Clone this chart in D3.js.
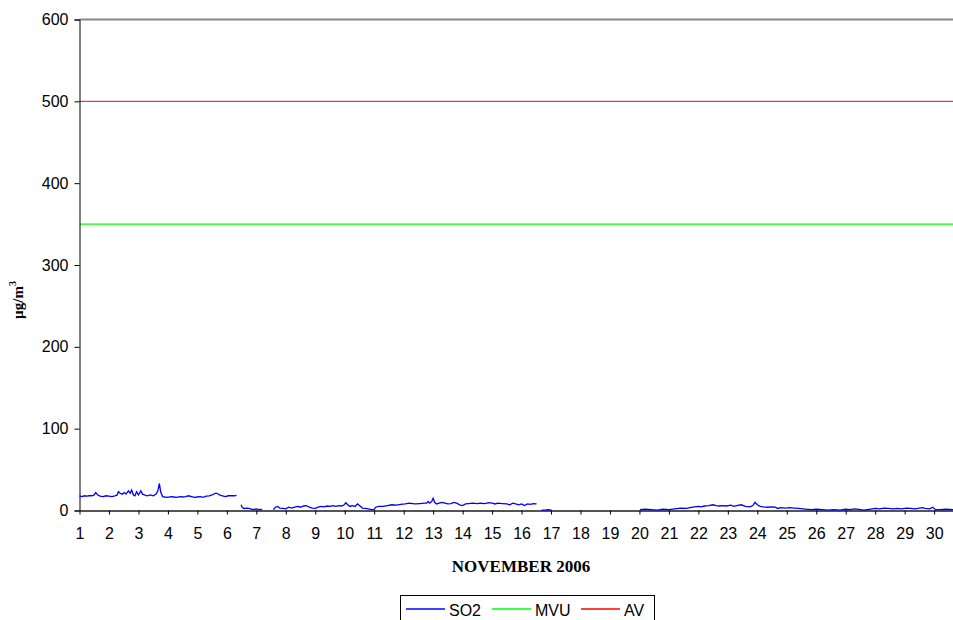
<!DOCTYPE html>
<html><head><meta charset="utf-8">
<script src="https://cdn.jsdelivr.net/npm/d3@7"></script>
<style>body{margin:0;background:#fff}svg{display:block}</style>
</head><body>
<script>
// ---- data ----
const dayTicks = d3.range(1, 31);
const yTicks = [0, 100, 200, 300, 400, 500, 600];
const so2Days = [1.0,1.08,1.17,1.25,1.33,1.42,1.5,1.55,1.62,1.7,1.8,1.9,2.0,2.1,2.2,2.28,2.32,2.38,2.45,2.52,2.58,2.66,2.72,2.77,2.83,2.88,2.94,3.0,3.08,3.14,3.2,3.3,3.4,3.5,3.6,3.66,3.71,3.76,3.82,3.9,4.0,4.1,4.2,4.3,4.4,4.5,4.6,4.7,4.8,4.9,5.0,5.1,5.2,5.3,5.4,5.5,5.6,5.67,5.75,5.85,5.95,6.05,6.15,6.25,6.33,6.4,
 6.48,6.52,6.58,6.7,6.8,6.9,7.0,7.1,7.2,7.4,
 7.58,7.65,7.72,7.8,7.9,8.0,8.1,8.2,8.3,8.4,8.5,8.6,8.7,8.8,8.9,9.0,9.1,9.2,9.3,9.4,9.5,9.6,9.7,9.8,9.9,9.98,10.04,10.1,10.18,10.25,10.35,10.43,10.5,10.6,10.7,10.8,10.9,11.0,11.05,11.15,11.3,11.45,11.6,11.75,11.9,12.05,12.2,12.3,12.4,12.55,12.7,12.78,12.83,12.88,12.95,13.0,13.05,13.12,13.2,13.3,13.4,13.5,13.6,13.7,13.8,13.9,14.0,14.1,14.2,14.35,14.5,14.6,14.75,14.9,15.0,15.1,15.2,15.35,15.5,15.6,15.7,15.8,15.9,16.0,16.1,16.2,16.3,16.4,16.51,16.6,
 16.68,16.8,16.9,17.02,18.5,
 20.02,20.2,20.4,20.6,20.8,21.0,21.2,21.4,21.6,21.8,22.0,22.1,22.2,22.35,22.5,22.6,22.7,22.8,22.95,23.1,23.2,23.3,23.45,23.6,23.75,23.85,23.92,24.0,24.1,24.2,24.35,24.5,24.6,24.7,24.8,24.95,25.1,25.25,25.4,25.55,25.7,25.85,26.0,26.2,26.4,26.6,26.8,27.0,27.15,27.3,27.45,27.6,27.8,28.0,28.15,28.3,28.45,28.6,28.75,28.9,29.05,29.2,29.35,29.5,29.6,29.7,29.85,29.95,30.05,30.2,30.4,30.64];
const so2Values = [18,17,18,17.5,18,18,19,22,19,17.5,17,18,17.5,17,18,19,23,21,20,22,20,24,21,25,19,18,23,19,24,20,19,18,19,18,20,24,33,22,17,16.5,16,17,16.5,16,17,16.5,17,18,17,16,16.5,17,16,17.5,18,19,21,21,19,18,17,18,18,18,18.5,null,
 7,4,2.5,3,2,1,2,1,1.5,null,
 1,4,5,3,2.5,2,4,3,4,5,4,5.5,6,4,3,2.5,4,5,4.5,5.5,5,6,5,6,5.5,7,9.5,7,5,6,5,8,6,3,2.5,2,1,1.5,4,5,5,6,7,6.5,7.5,8,9,8.5,8,8.5,9,9,11,9,11,15,10,8,9,10,9,8,8.5,10,9,7,6,8,8.5,9,8.5,9,8.5,9.5,9,8,9,8.5,8,7,9,8,7,8,6,8,7.5,8.5,8,null,
 0.5,0.5,1,0.5,null,
 1,1.5,1,0.5,1.5,1,2,3,2.5,4,5,4.5,5.5,6,7,6,5.5,6,5.5,6.5,5,6,7,5,4.5,6,10,7,5,4.5,4,4.5,4,2.5,3.5,3,3.5,3,2.5,2,1.5,1,1.5,1,0.5,1,0.5,1.5,1,2,1.5,0.5,1.5,2.5,2,3,2.5,2,2.5,2,3,2.5,2,3,3.5,2.5,2,4,1,1,1.5,1];
const limitNames = ["MVU", "AV"];
const limitValues = [350, 500];
const seriesNames = ["SO2", "MVU", "AV"];
const seriesColors = ["#0000ff", "#00ff00", "#ff0000"];

// ---- chart ----
const W = 953, H = 620;
const svg = d3.select("body").append("svg").attr("width", W).attr("height", H);
const x = d3.scaleLinear().domain([1, 30.64]).range([79.5, 953]);
const y = d3.scaleLinear().domain([0, 600]).range([510.5, 19.5]);
const font = "Arial, 'Liberation Sans', sans-serif";
const serif = "'Liberation Serif', 'Times New Roman', serif";

// top border of plot area
svg.append("line").attr("x1", x(1)).attr("x2", W).attr("y1", y(600)).attr("y2", y(600))
  .style("stroke", "#888").style("stroke-width", 2);

// limit lines
const limitWidths = [1.2, 1];
limitValues.forEach((v, i) => {
  svg.append("line").attr("x1", x(1)).attr("x2", W).attr("y1", y(v)).attr("y2", y(v))
    .style("stroke", seriesColors[i + 1]).style("stroke-width", limitWidths[i]);
});

// y axis
const yAxis = svg.append("g").attr("transform", `translate(${x(1)},0)`)
  .call(d3.axisLeft(y).tickValues(yTicks).tickSize(5).tickPadding(6));
yAxis.select(".domain").style("stroke", "#000").style("stroke-width", 1);
yAxis.selectAll(".tick line").style("stroke", "#000");
yAxis.selectAll("text").attr("font-family", font).attr("font-size", 16).attr("fill", "#000");

// x axis
const xAxis = svg.append("g").attr("transform", `translate(0,${y(0)})`)
  .call(d3.axisBottom(x).tickValues(dayTicks).tickFormat(d3.format("d")).tickSize(4).tickSizeOuter(0).tickPadding(13));
xAxis.select(".domain").style("stroke", "#555").style("stroke-width", 2);
xAxis.selectAll(".tick line").style("stroke", "#000");
xAxis.selectAll("text").attr("font-family", font).attr("font-size", 16).attr("fill", "#000");

// SO2 line
const line = d3.line().defined((d, i) => so2Values[i] !== null)
  .x((d, i) => x(so2Days[i])).y((d, i) => y(so2Values[i] ?? 0));
svg.append("path").datum(so2Days).attr("d", line)
  .style("fill", "none").style("stroke", seriesColors[0]).style("stroke-width", 1.3);

// axis titles
svg.append("text").attr("x", 521).attr("y", 572).attr("text-anchor", "middle")
  .attr("font-family", serif).attr("font-weight", "bold")
  .attr("font-size", 17).text("NOVEMBER 2006");
const yt = svg.append("text").attr("transform", "translate(23,300) rotate(-90)").attr("text-anchor", "middle")
  .attr("font-family", serif).attr("font-weight", "bold")
  .attr("font-size", 15);
yt.append("tspan").text("µg/m");
yt.append("tspan").attr("font-size", 10).attr("dy", -7).text("3");

// legend
const lg = svg.append("g");
lg.append("rect").attr("x", 400.5).attr("y", 595.5).attr("width", 254).attr("height", 40)
  .style("fill", "#fff").style("stroke", "#000").style("stroke-width", 1);
const legX = [406, 492, 581];
seriesNames.forEach((n, i) => {
  lg.append("line").attr("x1", legX[i]).attr("x2", legX[i] + 39).attr("y1", 609).attr("y2", 609)
    .style("stroke", seriesColors[i]).style("stroke-width", 1.6);
  lg.append("text").attr("x", legX[i] + 43).attr("y", 615.5).attr("font-family", font)
    .attr("font-size", 16).style("fill", "#000").text(n);
});
</script>
</body></html>
